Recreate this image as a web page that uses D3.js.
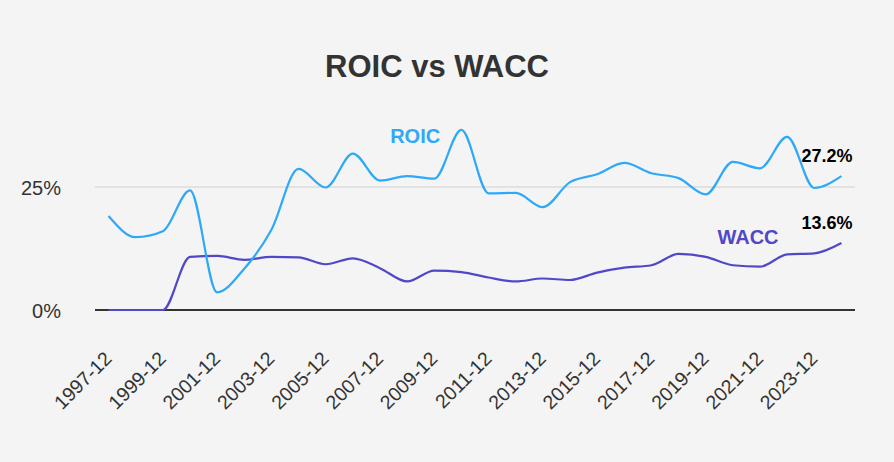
<!DOCTYPE html>
<html>
<head>
<meta charset="utf-8">
<script src="https://cdn.jsdelivr.net/npm/d3@7"></script>
<style>
  html, body { margin: 0; padding: 0; background: #f4f4f4; }
  svg { display: block; font-family: "Liberation Sans", Arial, sans-serif; }
</style>
</head>
<body>
<div id="chart"></div>
<script>
// yearly values, Dec of each year
var years = ["1997-12","1998-12","1999-12","2000-12","2001-12","2002-12","2003-12","2004-12","2005-12","2006-12",
             "2007-12","2008-12","2009-12","2010-12","2011-12","2012-12","2013-12","2014-12","2015-12","2016-12",
             "2017-12","2018-12","2019-12","2020-12","2021-12","2022-12","2023-12","2024-12"];
var roic = [19.1, 14.8, 16.0, 24.3, 3.6, 8.4, 16.3, 28.7, 24.9, 31.8,
            26.3, 27.2, 26.7, 36.6, 23.7, 23.8, 20.9, 26.0, 27.6, 29.9,
            27.8, 26.8, 23.5, 30.1, 28.8, 35.2, 24.8, 27.2];
var wacc = [0, 0, 0, 10.8, 11.0, 10.2, 10.8, 10.7, 9.3, 10.5,
            8.5, 5.8, 8.0, 7.7, 6.6, 5.8, 6.4, 6.1, 7.6, 8.6,
            9.1, 11.4, 10.8, 9.1, 8.8, 11.3, 11.5, 13.6];
var yTicks = [0, 25];
var xTickLabels = years.filter(function(d, i) { return i % 2 == 0 && i < 27 });

var W = 894, H = 462;
var roicColor = "#2ea9f7", waccColor = "#5148c7";

var svg = d3.select("#chart").append("svg")
  .attr("width", W).attr("height", H);

var x = d3.scalePoint().domain(years).range([95, 855]).padding(0.5);
var y = d3.scaleLinear().domain([0, 25]).range([310, 187]);

// title
svg.append("text")
  .attr("x", 437).attr("y", 77)
  .attr("text-anchor", "middle")
  .attr("font-size", "31px").attr("font-weight", "bold")
  .attr("fill", "#333")
  .text("ROIC vs WACC");

// grid + y labels
var yAxis = d3.axisLeft(y).tickValues(yTicks).tickSize(0).tickPadding(0)
  .tickFormat(function(d) { return d + "%" });
var gy = svg.append("g").attr("transform", "translate(61,0)").call(yAxis);
gy.select(".domain").remove();
gy.selectAll("text").attr("font-size", "20px").attr("fill", "#333")
  .attr("font-family", "inherit").attr("dy", "0.38em");

svg.selectAll("line.grid").data(yTicks.filter(function(d) { return d > 0 }))
  .enter().append("line").attr("class", "grid")
  .attr("x1", 95).attr("x2", 855)
  .attr("y1", function(d) { return y(d) }).attr("y2", function(d) { return y(d) })
  .attr("stroke", "#e2e2e2").attr("stroke-width", 2);

svg.append("line")
  .attr("x1", 95).attr("x2", 855)
  .attr("y1", y(0)).attr("y2", y(0))
  .attr("stroke", "#333").attr("stroke-width", 2);

// x labels
var xAxis = d3.axisBottom(x).tickValues(xTickLabels).tickSize(0).tickPadding(0);
var gx = svg.append("g").attr("transform", "translate(0,355)").call(xAxis);
gx.select(".domain").remove();
gx.selectAll("text")
  .attr("font-size", "19.5px").attr("fill", "#333").attr("font-family", "inherit")
  .attr("text-anchor", "end")
  .attr("y", 0).attr("dy", "0.35em")
  .attr("transform", "translate(-1,0) rotate(-45)");

// lines
var line = d3.line()
  .x(function(d, i) { return x(years[i]) })
  .y(function(d) { return y(d) })
  .curve(d3.curveMonotoneX);

svg.append("path").datum(wacc)
  .attr("d", line).attr("fill", "none")
  .attr("stroke", waccColor).attr("stroke-width", 2.2);
svg.append("path").datum(roic)
  .attr("d", line).attr("fill", "none")
  .attr("stroke", roicColor).attr("stroke-width", 2.2);

// series names
svg.append("text")
  .attr("x", x("2008-12") + 8).attr("y", y(34))
  .attr("text-anchor", "middle").attr("font-size", "20px").attr("font-weight", "bold")
  .attr("fill", roicColor).text("ROIC");
svg.append("text")
  .attr("x", x("2021-12") - 12).attr("y", y(13.5))
  .attr("text-anchor", "middle").attr("font-size", "20px").attr("font-weight", "bold")
  .attr("fill", waccColor).text("WACC");

// last values
var last = years.length - 1;
[roic, wacc].forEach(function(s) {
  svg.append("text")
    .attr("x", x(years[last]) + 11).attr("y", y(s[last]) - 14)
    .attr("text-anchor", "end").attr("font-size", "18px").attr("font-weight", "bold")
    .attr("fill", "#000").text(s[last].toFixed(1) + "%");
});
</script>
</body>
</html>
